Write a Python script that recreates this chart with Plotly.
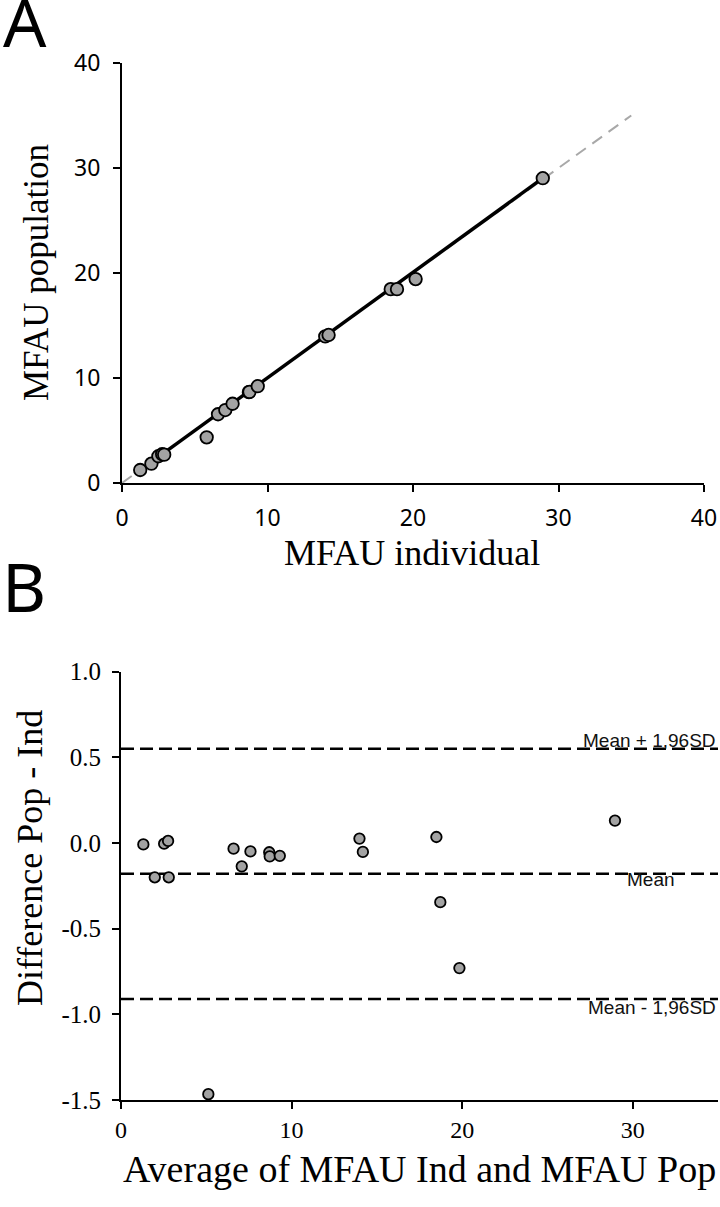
import plotly.graph_objects as go

# ---------------- Panel A data ----------------
mfau_individual = [1.25, 2.02, 2.50, 2.76, 2.90, 5.82, 6.60, 7.10, 7.60, 8.72, 8.76, 9.33,
                   13.97, 14.20, 18.47, 18.90, 20.18, 28.92]
mfau_population = [1.24, 1.84, 2.55, 2.74, 2.70, 4.35, 6.55, 6.95, 7.55, 8.65, 8.68, 9.22,
                   13.96, 14.10, 18.46, 18.46, 19.42, 29.03]
fit_x = [1.25, 28.92]          # regression line extent
fit_y = [1.22, 29.03]
identity_x = [0, 35]
identity_y = [0, 35]

# ---------------- Panel B data ----------------
bland_average = [1.31, 1.98, 2.53, 2.76, 2.80, 5.12, 6.60, 7.08, 7.59, 8.69, 8.72, 9.31,
                 13.98, 14.18, 18.49, 18.72, 19.84, 28.96]
bland_difference = [-0.008, -0.20, -0.004, 0.012, -0.20, -1.466, -0.033, -0.136, -0.049,
                    -0.054, -0.078, -0.075, 0.026, -0.052, 0.035, -0.345, -0.73, 0.131]
mean_diff = -0.18
upper_loa = 0.55
lower_loa = -0.91
ref_lines = [upper_loa, mean_diff, lower_loa]
ref_labels = ["Mean + 1,96SD", "Mean", "Mean - 1,96SD"]

a_ticks = [0, 10, 20, 30, 40]
b_xticks = [0, 10, 20, 30]
b_yticks = [1.0, 0.5, 0.0, -0.5, -1.0, -1.5]

W, H = 720, 1207
def px(x):
    return x / W
def py(y):
    return 1 - y / H

SERIF = "Liberation Serif"
SANS = "Liberation Sans"

fig = go.Figure()

# Panel A
fig.add_trace(go.Scatter(x=identity_x, y=identity_y, mode="lines", xaxis="x", yaxis="y",
                         line=dict(color="#a8a8a8", width=2, dash="12px,8px"),
                         hoverinfo="skip", showlegend=False))
fig.add_trace(go.Scatter(x=fit_x, y=fit_y, mode="lines", xaxis="x", yaxis="y",
                         line=dict(color="black", width=3.5), showlegend=False))
fig.add_trace(go.Scatter(x=mfau_individual, y=mfau_population, mode="markers",
                         xaxis="x", yaxis="y",
                         marker=dict(size=12.5, color="#a3a3a3",
                                     line=dict(color="black", width=1.8)),
                         showlegend=False))

# Panel B reference lines
for v in ref_lines:
    fig.add_trace(go.Scatter(x=[0, 35], y=[v, v], mode="lines", xaxis="x2", yaxis="y2",
                             line=dict(color="black", width=2.5, dash="13px,6px"),
                             hoverinfo="skip", showlegend=False))
fig.add_trace(go.Scatter(x=bland_average, y=bland_difference, mode="markers",
                         xaxis="x2", yaxis="y2",
                         marker=dict(size=10.5, color="#a3a3a3",
                                     line=dict(color="black", width=1.8)),
                         showlegend=False))

axis_common = dict(showline=True, linecolor="black", linewidth=2, ticks="outside",
                   ticklen=7, tickwidth=2, tickcolor="black", showgrid=False,
                   zeroline=False, automargin=False)

fig.update_layout(
    width=W, height=H,
    margin=dict(l=0, r=0, t=0, b=0, autoexpand=False),
    paper_bgcolor="white", plot_bgcolor="white",
    xaxis=dict(domain=[px(122), px(704)], range=[0, 40], anchor="y",
               tickvals=a_ticks, ticktext=[str(t) for t in a_ticks],
               tickfont=dict(family="Noto Sans", size=23, color="black"),
               ticklabelstandoff=6, **axis_common),
    yaxis=dict(domain=[py(483), py(63)], range=[0, 40], anchor="x",
               tickvals=a_ticks, ticktext=[str(t) for t in a_ticks],
               tickfont=dict(family="Noto Sans", size=23, color="black"),
               ticklabelstandoff=8, **axis_common),
    xaxis2=dict(domain=[px(121), px(718)], range=[0, 35], anchor="y2",
                tickvals=b_xticks, ticktext=[str(t) for t in b_xticks],
                tickfont=dict(family=SERIF, size=24, color="black"),
                ticklabelstandoff=0, **axis_common),
    yaxis2=dict(domain=[py(1100), py(671.7)], range=[-1.5, 1.0], anchor="x2",
                tickvals=b_yticks, ticktext=[f"{t:.1f}" for t in b_yticks],
                tickfont=dict(family=SERIF, size=25, color="black"),
                ticklabelstandoff=6, **axis_common),
)

annotations = [
    dict(text="A", x=px(1), y=py(21), xanchor="left", yanchor="middle",
         font=dict(family="Noto Sans", size=68, color="black")),
    dict(text="B", x=px(0), y=py(585), xanchor="left", yanchor="middle",
         font=dict(family="Noto Sans", size=68, color="black")),
    dict(text="MFAU population", x=px(36), y=py(273), textangle=-90,
         xanchor="center", yanchor="middle",
         font=dict(family=SERIF, size=35, color="black")),
    dict(text="MFAU individual", x=px(412), y=py(553), xanchor="center", yanchor="middle",
         font=dict(family=SERIF, size=36, color="black")),
    dict(text="Difference Pop - Ind", x=px(30), y=py(858), textangle=-90,
         xanchor="center", yanchor="middle",
         font=dict(family=SERIF, size=36, color="black")),
    dict(text="Average of MFAU Ind and MFAU Pop", x=px(419), y=py(1169),
         xanchor="center", yanchor="middle",
         font=dict(family=SERIF, size=38, color="black")),
]
label_offsets = [-8, 6, 9]
for v, lab, off in zip(ref_lines, ref_labels, label_offsets):
    xr = 35 if lab != "Mean" else 32.6
    annotations.append(dict(text=lab, x=xr, y=v, xref="x2", yref="y2",
                            xanchor="right", yanchor="middle", yshift=-off,
                            font=dict(family=SANS, size=19, color="#111111")))
for a in annotations:
    a.setdefault("xref", "paper")
    a.setdefault("yref", "paper")
    a["showarrow"] = False
fig.update_layout(annotations=annotations)

fig.write_html("out.html",
               config={"displayModeBar": False},
               post_script="document.body.style.margin='0';"
                           "document.body.style.overflow='hidden';")
